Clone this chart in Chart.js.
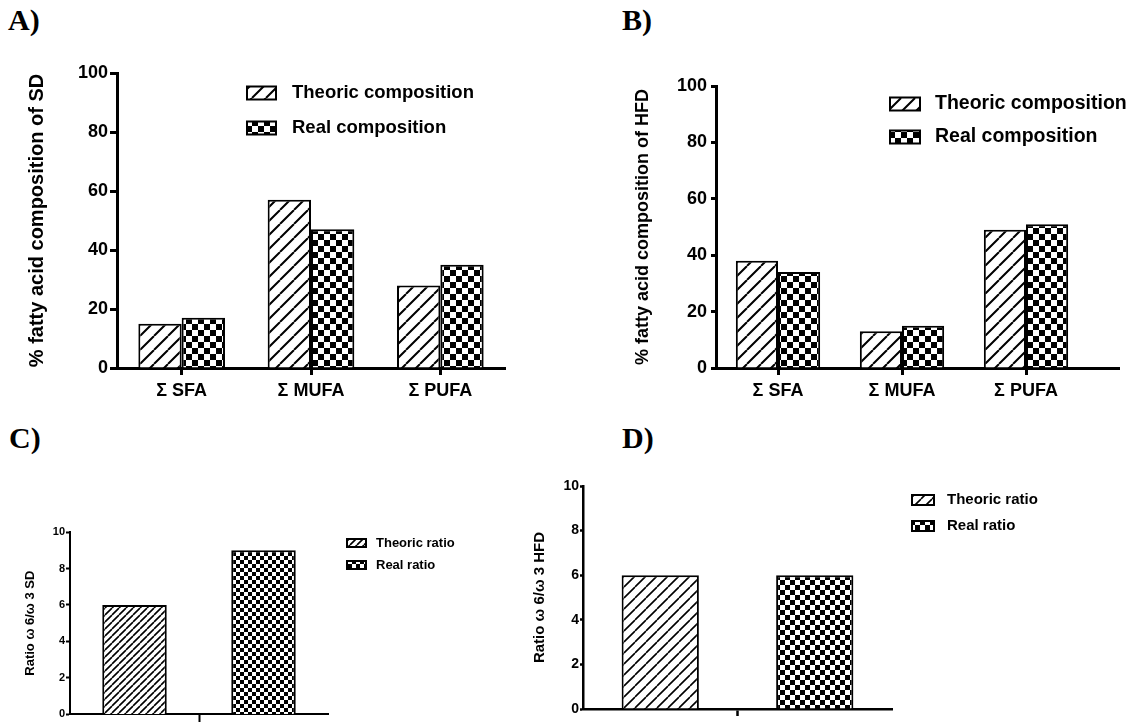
<!DOCTYPE html>
<html>
<head>
<meta charset="utf-8">
<script src="https://cdn.jsdelivr.net/npm/chart.js@4.4.1/dist/chart.umd.min.js"></script>
<style>
  body { margin: 0; background: #fff; width: 1135px; height: 722px; position: relative; overflow: hidden; }
  canvas { position: absolute; }
  .tag { position: absolute; font: bold 30px "Liberation Serif", "Times New Roman", serif; line-height: 30px; color: #000; }
</style>
</head>
<body>
<div class="tag" style="left:8px; top:5px">A)</div>
<div class="tag" style="left:622px; top:5px">B)</div>
<div class="tag" style="left:9px; top:423px">C)</div>
<div class="tag" style="left:622px; top:423px">D)</div>

<canvas id="chartA" width="570" height="410" style="left:0px; top:0px"></canvas>
<canvas id="chartB" width="570" height="410" style="left:565px; top:0px"></canvas>
<canvas id="chartC" width="560" height="282" style="left:0px; top:440px"></canvas>
<canvas id="chartD" width="665" height="322" style="left:470px; top:400px"></canvas>

<script>
// data
const fattyGroups = ['\u03A3 SFA', '\u03A3 MUFA', '\u03A3 PUFA'];
const compLabels = ['Theoric composition', 'Real composition'];
const sdTheoric = [15, 57, 28];
const sdReal = [17, 47, 35];
const hfdTheoric = [38, 13, 49];
const hfdReal = [34, 15, 51];

const ratioLabels = ['Theoric ratio', 'Real ratio'];
const sdRatios = [6, 9];
const hfdRatios = [6, 6];

const percentTicks = { min: 0, max: 100, step: 20 };
const ratioTicks = { min: 0, max: 10, step: 2 };

const fontName = '"Liberation Sans", Arial, sans-serif';
const black = '#000';

function hatch(ctx, step, lw) {
    const c = document.createElement('canvas');
    c.width = step; c.height = step;
    const g = c.getContext('2d');
    g.fillStyle = '#fff';
    g.fillRect(0, 0, step, step);
    g.strokeStyle = black;
    g.lineWidth = lw;
    g.beginPath();
    for (let k = -1; k <= 1; k++) {
        g.moveTo(k * step, step);
        g.lineTo(k * step + step, 0);
    }
    g.stroke();
    return ctx.createPattern(c, 'repeat');
}

function checker(ctx, s) {
    const c = document.createElement('canvas');
    c.width = 2 * s; c.height = 2 * s;
    const g = c.getContext('2d');
    g.fillStyle = '#fff';
    g.fillRect(0, 0, 2 * s, 2 * s);
    g.fillStyle = black;
    g.fillRect(0, 0, s, s);
    g.fillRect(s, s, s, s);
    return ctx.createPattern(c, 'repeat');
}

// legend drawn at a set place, using the datasets' own fills
const boxLegend = {
    id: 'boxLegend',
    afterDraw(chart, args, o) {
        const ctx = chart.ctx;
        ctx.save();
        ctx.font = 'bold ' + o.size + 'px ' + fontName;
        ctx.textBaseline = 'middle';
        chart.data.datasets.forEach((ds, i) => {
            const y = o.top + i * o.gap;
            ctx.fillStyle = ds.backgroundColor;
            ctx.fillRect(o.left, y - o.boxH / 2, o.boxW, o.boxH);
            ctx.lineWidth = 2;
            ctx.strokeStyle = black;
            ctx.strokeRect(o.left, y - o.boxH / 2, o.boxW, o.boxH);
            ctx.fillStyle = black;
            ctx.fillText(ds.label, o.textLeft, y);
        });
        ctx.restore();
    }
};

// x axis line running on past the last group (panel B)
const axisTail = {
    id: 'axisTail',
    afterDraw(chart, args, o) {
        if (!o.length) return;
        const a = chart.chartArea;
        const ctx = chart.ctx;
        const y = Math.round(a.bottom - o.width / 2) + o.width / 2;
        ctx.save();
        ctx.strokeStyle = black;
        ctx.lineWidth = o.width;
        ctx.beginPath();
        ctx.moveTo(a.right - 1, y);
        ctx.lineTo(a.right + o.length, y);
        ctx.stroke();
        ctx.restore();
    }
};

function yAxis(p, range) {
    return {
        min: range.min,
        max: range.max,
        ticks: { stepSize: range.step, color: black, padding: p.tickPad, font: { family: fontName, size: p.tickSize, weight: 'bold' } },
        grid: { drawOnChartArea: false, tickLength: p.tickLen, tickWidth: p.lineW, tickColor: black },
        border: { color: black, width: p.lineW },
        title: {
            display: true, text: p.title, color: black,
            font: { family: fontName, size: p.titleSize, weight: 'bold' },
            padding: { top: p.titleOffset, bottom: 0 }
        },
        afterFit: s => { s.width = p.yWidth; }
    };
}

function BuildCompositionChart(canvasId, theoric, real, p) {
    const ctx = document.getElementById(canvasId).getContext('2d');
    const data = {
        labels: fattyGroups,
        datasets: [{
            label: compLabels[0],
            data: theoric,
            backgroundColor: hatch(ctx, p.hatchStep, 2),
            borderColor: black,
            borderWidth: 2
        }, {
            label: compLabels[1],
            data: real,
            backgroundColor: checker(ctx, p.checkSize),
            borderColor: black,
            borderWidth: 2
        }]
    };

    const config = {
        type: 'bar',
        data: data,
        options: {
            responsive: false,
            animation: false,
            devicePixelRatio: 1,
            layout: { padding: p.padding },
            barPercentage: 1,
            categoryPercentage: p.catPct,
            scales: {
                x: {
                    grid: { offset: false, drawOnChartArea: false, tickLength: 7, tickWidth: p.lineW, tickColor: black },
                    border: { color: black, width: p.lineW },
                    ticks: { color: black, padding: 5, font: { family: fontName, size: p.tickSize, weight: 'bold' } },
                    afterFit: s => { s.height = p.xHeight; }
                },
                y: yAxis(p, percentTicks)
            },
            plugins: {
                legend: { display: false },
                tooltip: { enabled: false },
                boxLegend: p.legend,
                axisTail: { length: p.tail || 0, width: p.lineW }
            }
        },
        plugins: [boxLegend, axisTail]
    };

    new Chart(ctx, config);
}

function BuildRatioChart(canvasId, ratios, p) {
    const ctx = document.getElementById(canvasId).getContext('2d');
    const fills = [hatch(ctx, p.hatchStep, 1.6), checker(ctx, p.checkSize)];
    const datasets = ratioLabels.map((lab, i) => ({
        label: lab,
        data: ratioLabels.map((_, j) => (j === i ? ratios[i] : null)),
        backgroundColor: fills[i],
        borderColor: black,
        borderWidth: 2
    }));

    const config = {
        type: 'bar',
        data: { labels: ratioLabels, datasets: datasets },
        options: {
            responsive: false,
            animation: false,
            devicePixelRatio: 1,
            layout: { padding: p.padding },
            skipNull: true,
            barPercentage: 0.5,
            categoryPercentage: 1,
            scales: {
                x: {
                    grid: {
                        offset: true, drawOnChartArea: false, tickLength: p.xTickLen, tickWidth: p.lineW,
                        tickColor: c => (c.index === 1 ? black : 'rgba(0,0,0,0)')
                    },
                    border: { color: black, width: p.lineW },
                    ticks: { display: false },
                    afterFit: s => { s.height = p.xHeight; }
                },
                y: yAxis(p, ratioTicks)
            },
            plugins: {
                legend: { display: false },
                tooltip: { enabled: false },
                boxLegend: p.legend
            }
        },
        plugins: [boxLegend]
    };

    new Chart(ctx, config);
}

BuildCompositionChart('chartA', sdTheoric, sdReal, {
    title: '% fatty acid composition of SD',
    padding: { left: 0, top: 73, right: 65, bottom: 8 },
    yWidth: 117, xHeight: 34,
    tickSize: 18, titleSize: 20, titleOffset: 25,
    tickLen: 7, tickPad: 2, lineW: 3,
    catPct: 0.67, hatchStep: 14, checkSize: 6,
    legend: { left: 247, top: 93, gap: 35, boxW: 29, boxH: 13, textLeft: 292, size: 18.5 }
});

BuildCompositionChart('chartB', hfdTheoric, hfdReal, {
    title: '% fatty acid composition of HFD',
    padding: { left: 0, top: 86, right: 47, bottom: 8 },
    yWidth: 151, xHeight: 34, tail: 32,
    tickSize: 18, titleSize: 18, titleOffset: 67,
    tickLen: 5, tickPad: 4, lineW: 3,
    catPct: 0.68, hatchStep: 14, checkSize: 6,
    legend: { left: 325, top: 104, gap: 33, boxW: 30, boxH: 13, textLeft: 370, size: 19.5 }
});

BuildRatioChart('chartC', sdRatios, {
    title: 'Ratio \u03C9 6/\u03C9 3 SD',
    padding: { left: 0, top: 92, right: 232, bottom: 0 },
    yWidth: 70, xHeight: 4, xTickLen: 10,
    tickSize: 11, titleSize: 13, titleOffset: 23,
    tickLen: 4, tickPad: 1, lineW: 2,
    hatchStep: 7, checkSize: 4,
    legend: { left: 347, top: 103, gap: 22, boxW: 19, boxH: 8, textLeft: 376, size: 13 }
});

BuildRatioChart('chartD', hfdRatios, {
    title: 'Ratio \u03C9 6/\u03C9 3 HFD',
    padding: { left: 0, top: 86, right: 243, bottom: 5 },
    yWidth: 113, xHeight: 8, xTickLen: 7,
    tickSize: 14, titleSize: 15, titleOffset: 61,
    tickLen: 3, tickPad: 1, lineW: 2.5,
    hatchStep: 11, checkSize: 5,
    legend: { left: 442, top: 100, gap: 26, boxW: 22, boxH: 10, textLeft: 477, size: 15 }
});
</script>
</body>
</html>
